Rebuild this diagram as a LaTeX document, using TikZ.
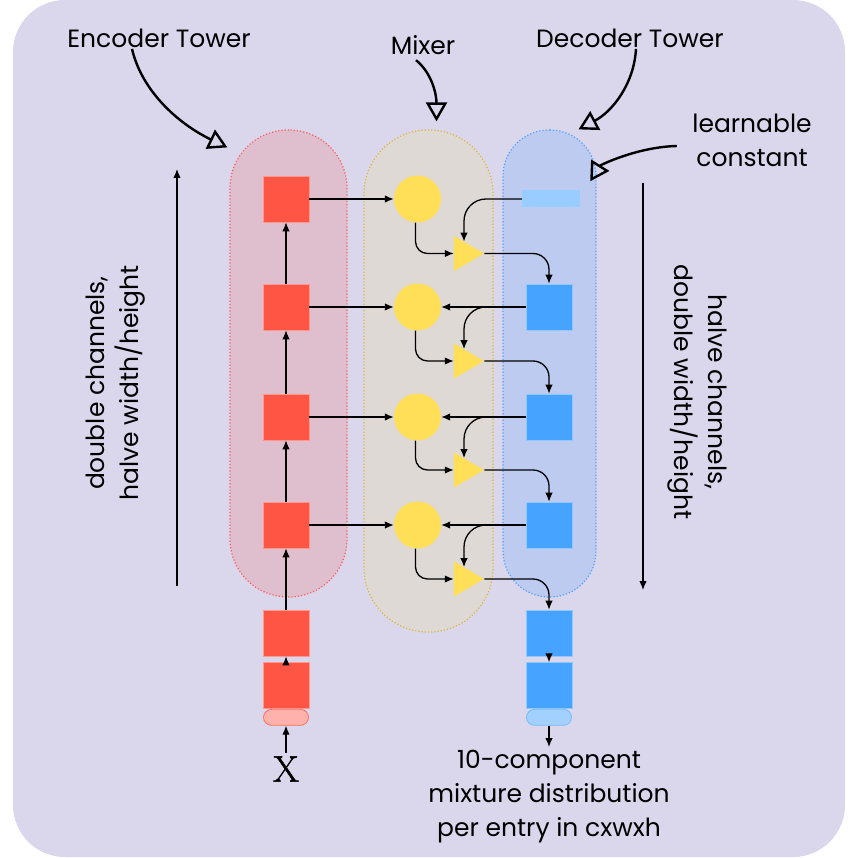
\documentclass[tikz,border=0pt]{standalone}
\usepackage{fontspec}
\setmainfont{Poppins}
\newfontfamily\lmfont[FakeBold=1.2]{Latin Modern Roman}
\usepackage{tikz}
\usetikzlibrary{positioning,arrows.meta,shapes.geometric,calc}
\definecolor{bgLav}{HTML}{DAD7ED}
\definecolor{encFill}{HTML}{DFBFCE}
\definecolor{encLine}{HTML}{FF5A5A}
\definecolor{mixFill}{HTML}{DED9D5}
\definecolor{mixLine}{HTML}{DDB83A}
\definecolor{decFill}{HTML}{BCCBEF}
\definecolor{decLine}{HTML}{4FA0FF}
\definecolor{redBlock}{HTML}{FF5544}
\definecolor{yelBlock}{HTML}{FFDF57}
\definecolor{blueBlock}{HTML}{46A3FF}
\definecolor{constBlue}{HTML}{99CCFF}

\begin{document}
\begin{tikzpicture}[
x=1pt,y=-1pt,
Tower/.style={rectangle,dotted,line width=1.2pt,inner sep=0pt},
RedBox/.style={rectangle,fill=redBlock,draw=redBlock!60!white,line width=0.6pt,minimum size=46pt,inner sep=0pt},
BlueBox/.style={rectangle,fill=blueBlock,draw=blueBlock!60!white,line width=0.6pt,minimum size=46pt,inner sep=0pt},
MixDot/.style={circle,fill=yelBlock,minimum size=47pt,inner sep=0pt},
MixTri/.style={isosceles triangle,isosceles triangle stretches,fill=yelBlock,minimum width=35pt,minimum height=30pt,inner sep=0pt},
Pill/.style={rectangle,rounded corners=8pt,minimum width=45pt,minimum height=16pt,inner sep=0pt,line width=0.8pt},
Flow/.style={-{Latex[length=9pt,width=7.5pt]},line width=1.3pt},
Callout/.style={-{Triangle[open,length=19pt,width=21pt]},line width=2.4pt},
every node/.style={font=\fontsize{25}{34}\selectfont}
]
\useasboundingbox (0,0) rectangle (858,858);
\fill[white] (0,0) rectangle (858,858);
\fill[bgLav,rounded corners=52pt] (13,0) rectangle (845,857);

% towers
\node[Tower,fill=encFill,draw=encLine,minimum width=117pt,minimum height=467pt,rounded corners=58pt] (enc) at (288.5,363.5) {};
\node[Tower,fill=mixFill,draw=mixLine,minimum width=129pt,minimum height=502pt,rounded corners=64pt] (mix) at (428.5,381) {};
\node[Tower,fill=decFill,draw=decLine,minimum width=93pt,minimum height=467pt,rounded corners=46pt] (dec) at (549.5,363.5) {};

% encoder
\node[RedBox] (e1) at (286,199) {};
\node[RedBox] (e2) at (286,307) {};
\node[RedBox] (e3) at (286,417) {};
\node[RedBox] (e4) at (286,525) {};
\node[RedBox] (e5) at (286,633) {};
\node[RedBox,below=6pt of e5] (e6) {};
\node[Pill,fill=redBlock!45!white,draw=redBlock!85!white,below=0pt of e6] (ein) {};
\node[font=\lmfont\fontsize{37}{37}\selectfont] (xin) at (286,769) {X};

% mixer
\node[MixDot] (m1) at (417.5,199) {};
\node[MixDot] (m2) at (417.5,307) {};
\node[MixDot] (m3) at (417.5,417) {};
\node[MixDot] (m4) at (417.5,525) {};
\node[MixTri] (t1) at (464,253.5) {};
\node[MixTri] (t2) at (464,361) {};
\node[MixTri] (t3) at (464,470) {};
\node[MixTri] (t4) at (464,579) {};

% decoder
\node[rectangle,fill=constBlue,minimum width=58pt,minimum height=17pt,inner sep=0pt] (c0) at (551,199) {};
\node[BlueBox] (d1) at (549,307) {};
\node[BlueBox] (d2) at (549,417) {};
\node[BlueBox] (d3) at (549,525) {};
\node[BlueBox] (d4) at (549,633) {};
\node[BlueBox,below=6pt of d4] (d5) {};
\node[Pill,fill=constBlue!90!white,draw=blueBlock!75!white,below=0pt of d5] (dout) {};
\node[align=center] (outText) at (549,797) {10-component\\mixture distribution\\per entry in cxwxh};

% encoder flow
\draw[Flow] (xin) -- (ein);
\draw[Flow] (e6) -- (e5);
\draw[Flow] (e5) -- (e4);
\draw[Flow] (e4) -- (e3);
\draw[Flow] (e3) -- (e2);
\draw[Flow] (e2) -- (e1);

\draw[Flow] (e1) -- (m1);
\draw[Flow] (e2) -- (m2);
\draw[Flow] (e3) -- (m3);
\draw[Flow] (e4) -- (m4);
\draw[Flow] (d1) -- (m2);
\draw[Flow] (d2) -- (m3);
\draw[Flow] (d3) -- (m4);

% mixer flow
\draw[Flow,rounded corners=12pt] ([xshift=-2pt]m1.south) |- (t1.west);
\draw[Flow,rounded corners=12pt] ([xshift=-2pt]m2.south) |- (t2.west);
\draw[Flow,rounded corners=12pt] ([xshift=-2pt]m3.south) |- (t3.west);
\draw[Flow,rounded corners=12pt] ([xshift=-2pt]m4.south) |- (t4.west);
\draw[Flow,rounded corners=22pt] (c0.west) -| (t1.north);
\draw[Flow,rounded corners=22pt] (d1.west) -| (t2.north);
\draw[Flow,rounded corners=22pt] (d2.west) -| (t3.north);
\draw[Flow,rounded corners=22pt] (d3.west) -| (t4.north);
\draw[Flow,rounded corners=16pt] (t1.east) -| (d1.north);
\draw[Flow,rounded corners=16pt] (t2.east) -| (d2.north);
\draw[Flow,rounded corners=16pt] (t3.east) -| (d3.north);
\draw[Flow,rounded corners=16pt] (t4.east) -| (d4.north);
\draw[Flow] (d4) -- (d5);
\draw[Flow] (dout) -- (outText);

% side arrows
\coordinate (upFrom) at (177,586);
\coordinate (upTo) at (177,169);
\coordinate (downFrom) at (643,183);
\coordinate (downTo) at (643,590);
\draw[Flow] (upFrom) -- (upTo);
\draw[Flow] (downFrom) -- (downTo);
\node[rotate=90,align=center] (upText) at (116,383) {double channels,\\halve width/height};
\node[rotate=-90,align=center] (downText) at (697,392) {halve channels,\\double width/height};

% callouts
\node (encText) at (159,38) {Encoder Tower};
\node (mixText) at (423,45) {Mixer};
\node (decText) at (630,38) {Decoder Tower};
\node[align=center] (constText) at (752,140) {learnable\\constant};
\coordinate (encTip) at ([xshift=-2pt,yshift=-18pt]enc.north west);
\coordinate (mixTip) at ([xshift=8pt,yshift=8pt]mix.north);
\coordinate (decTip) at ([xshift=29pt,yshift=0pt]dec.north);
\coordinate (constTip) at ([xshift=10pt,yshift=9pt]c0.north east);
\draw[Callout] ([xshift=-27pt,yshift=2pt]encText.south) .. controls +(10,43) and +(-48,-23) .. (encTip);
\draw[Callout] ([xshift=-7pt,yshift=-2pt]mixText.south) .. controls +(16,13) and +(0,-27) .. (mixTip);
\draw[Callout] ([xshift=6pt,yshift=2pt]decText.south) .. controls +(-2,35) and +(34,-18) .. (decTip);
\draw[Callout] ([xshift=-12pt,yshift=-6pt]constText.west) .. controls +(-40,1) and +(10,-16) .. (constTip);
\end{tikzpicture}
\end{document}
